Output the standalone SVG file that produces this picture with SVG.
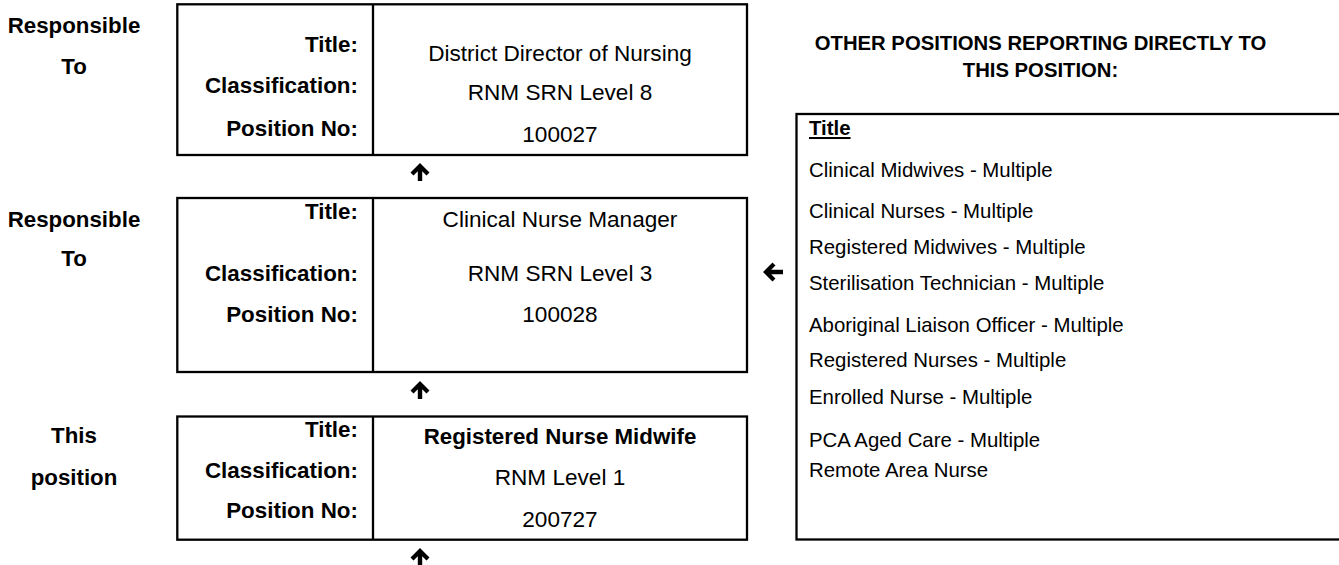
<svg xmlns="http://www.w3.org/2000/svg" width="1339" height="565" viewBox="0 0 1339 565">
<style>
text{font-family:"Liberation Sans",Arial,sans-serif;fill:#000}
.lbl{font-size:22.3px;font-weight:bold;text-anchor:middle}
.key{font-size:22.4px;font-weight:bold;text-anchor:end}
.val{font-size:22.6px;text-anchor:middle}
.valb{font-size:22.3px;font-weight:bold;text-anchor:middle}
.hdr{font-size:20.3px;font-weight:bold;text-anchor:middle}
.item{font-size:20.4px}
.box{fill:#fff;stroke:#000;stroke-width:2.3}
.div{stroke:#000;stroke-width:2.3}
.arr{fill:#000}
</style>
<rect width="1339" height="565" fill="#fff"/>
<g id="node-director">
<text class="lbl" x="74" y="33">Responsible</text>
<text class="lbl" x="74" y="74">To</text>
<rect class="box" x="177.3" y="4.3" width="569.7" height="150.7"/>
<line class="div" x1="373" y1="4.3" x2="373" y2="155"/>
<text class="key" x="358" y="52">Title:</text>
<text class="key" x="358" y="93">Classification:</text>
<text class="key" x="358" y="136">Position No:</text>
<text class="val" x="560" y="61">District Director of Nursing</text>
<text class="val" x="560" y="100">RNM SRN Level 8</text>
<text class="val" x="560" y="142">100027</text>
</g>
<g id="node-manager">
<text class="lbl" x="74" y="227">Responsible</text>
<text class="lbl" x="74" y="266">To</text>
<rect class="box" x="177.3" y="198" width="569.7" height="174"/>
<line class="div" x1="373" y1="198" x2="373" y2="372"/>
<text class="key" x="358" y="219">Title:</text>
<text class="key" x="358" y="281">Classification:</text>
<text class="key" x="358" y="322">Position No:</text>
<text class="val" x="560" y="227">Clinical Nurse Manager</text>
<text class="val" x="560" y="281">RNM SRN Level 3</text>
<text class="val" x="560" y="322">100028</text>
</g>
<g id="node-this">
<text class="lbl" x="74" y="443">This</text>
<text class="lbl" x="74" y="485">position</text>
<rect class="box" x="177.3" y="416.5" width="569.7" height="123.2"/>
<line class="div" x1="373" y1="416.5" x2="373" y2="539.7"/>
<text class="key" x="358" y="437">Title:</text>
<text class="key" x="358" y="478">Classification:</text>
<text class="key" x="358" y="518">Position No:</text>
<text class="valb" x="560" y="444">Registered Nurse Midwife</text>
<text class="val" x="560" y="485">RNM Level 1</text>
<text class="val" x="560" y="527">200727</text>
</g>
<g id="node-others">
<text class="hdr" x="1040.5" y="50">OTHER POSITIONS REPORTING DIRECTLY TO</text>
<text class="hdr" x="1040.5" y="77">THIS POSITION:</text>
<rect class="box" x="796.5" y="114" width="560" height="425.5"/>
<text class="item" x="809" y="135" font-weight="bold" text-decoration="underline">Title</text>
<text class="item" x="809" y="177">Clinical Midwives - Multiple</text>
<text class="item" x="809" y="218">Clinical Nurses - Multiple</text>
<text class="item" x="809" y="254">Registered Midwives - Multiple</text>
<text class="item" x="809" y="290">Sterilisation Technician - Multiple</text>
<text class="item" x="809" y="332">Aboriginal Liaison Officer - Multiple</text>
<text class="item" x="809" y="367">Registered Nurses - Multiple</text>
<text class="item" x="809" y="404">Enrolled Nurse - Multiple</text>
<text class="item" x="809" y="447">PCA Aged Care - Multiple</text>
<text class="item" x="809" y="477">Remote Area Nurse</text>
</g>
<g id="connectors">
<path class="arr" d="M420,163 L429.5,172.5 L426.5,175.5 L422.2,171.2 L422.2,181 L417.8,181 L417.8,171.2 L413.5,175.5 L410.5,172.5 Z"/>
<path class="arr" d="M420,381 L429.5,390.5 L426.5,393.5 L422.2,389.2 L422.2,399 L417.8,399 L417.8,389.2 L413.5,393.5 L410.5,390.5 Z"/>
<path class="arr" d="M420,548 L429.5,557.5 L426.5,560.5 L422.2,556.2 L422.2,566 L417.8,566 L417.8,556.2 L413.5,560.5 L410.5,557.5 Z"/>
<path class="arr" d="M763,272 L772.5,262.5 L775.5,265.5 L771.2,269.8 L783,269.8 L783,274.2 L771.2,274.2 L775.5,278.5 L772.5,281.5 Z"/>
</g>
</svg>
